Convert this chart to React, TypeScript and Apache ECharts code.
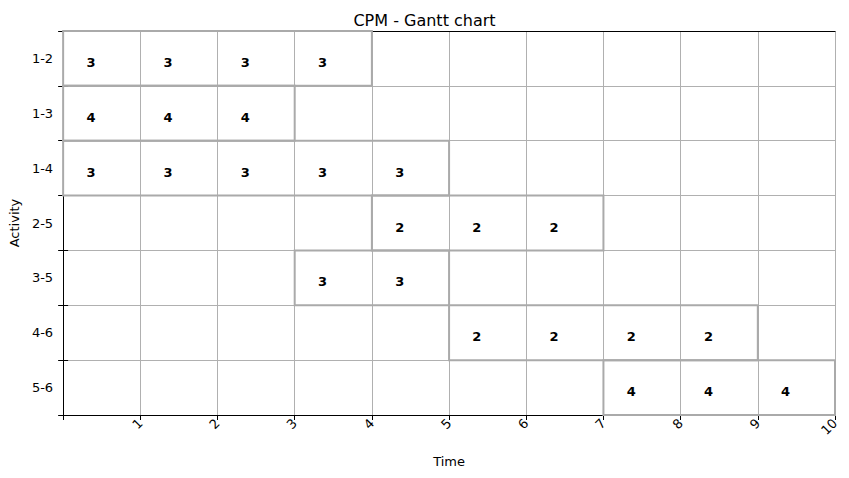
import { useRef, useEffect } from "react";
import * as echarts from "echarts";

const activities = ["1-2", "1-3", "1-4", "2-5", "3-5", "4-6", "5-6"];
const starts = [0, 0, 0, 4, 3, 5, 7];
const durations = [4, 3, 5, 3, 2, 4, 3];
const resources = [3, 4, 3, 2, 3, 2, 4];
const timeTicks = [0, 1, 2, 3, 4, 5, 6, 7, 8, 9, 10];

const font = "DejaVu Sans";

const App = () => {
  const chartRef = useRef<HTMLDivElement>(null);

  useEffect(() => {
    document.body.style.margin = "0";
    const myChart = echarts.init(chartRef.current, null, { renderer: "svg" });

    const barData = activities.map((a, i) => [starts[i], durations[i], i, resources[i]]);

    const option = {
      animation: false,
      textStyle: { fontFamily: font },
      title: {
        text: "CPM - Gantt chart",
        left: "center",
        top: 7,
        textStyle: { fontFamily: font, fontSize: 16, fontWeight: "normal", color: "#000" },
      },
      grid: { left: 60, right: 14, top: 31, bottom: 63 },
      xAxis: [
        {
          type: "value",
          min: timeTicks[0],
          max: timeTicks[timeTicks.length - 1],
          interval: 1,
          name: "Time",
          nameLocation: "middle",
          nameGap: 40,
          nameTextStyle: { color: "#000", fontSize: 13, fontFamily: font },
          axisLine: { show: true, lineStyle: { color: "#000" } },
          axisTick: { show: true, length: 5, lineStyle: { color: "#000" } },
          axisLabel: {
            rotate: 45,
            color: "#000",
            fontSize: 13,
            margin: 6,
            formatter: (v: number) => (v === 0 ? "" : String(v)),
          },
          splitLine: { show: true, lineStyle: { color: "#b0b0b0" } },
        },
        {
          type: "value",
          position: "top",
          min: 0,
          max: 10,
          axisLine: { show: true, lineStyle: { color: "#000" } },
          axisTick: { show: false },
          axisLabel: { show: false },
          splitLine: { show: false },
        },
      ],
      yAxis: [
        {
          type: "category",
          data: activities,
          inverse: true,
          name: "Activity",
          nameLocation: "middle",
          nameGap: 42,
          nameTextStyle: { color: "#000", fontSize: 13, fontFamily: font },
          axisLine: { show: true, lineStyle: { color: "#000" } },
          axisTick: { show: true, length: 5, lineStyle: { color: "#000" } },
          axisLabel: { color: "#000", fontSize: 13, margin: 10 },
          splitLine: { show: true, lineStyle: { color: "#b0b0b0" } },
        },
        {
          type: "category",
          data: activities,
          inverse: true,
          position: "right",
          axisLine: { show: true, lineStyle: { color: "#000" } },
          axisTick: { show: true, length: 5, lineStyle: { color: "#000" } },
          axisLabel: { show: false },
          splitLine: { show: false },
        },
      ],
      series: [
        {
          type: "custom",
          xAxisIndex: 0,
          yAxisIndex: 0,
          data: barData,
          renderItem: (params: any, api: any) => {
            const s = api.value(0);
            const d = api.value(1);
            const row = api.value(2);
            const r = api.value(3);
            const p0 = api.coord([s, row]);
            const p1 = api.coord([s + d, row]);
            const h = api.size([0, 1])[1];
            const children: any[] = [
              {
                type: "rect",
                shape: { x: p0[0], y: p0[1] - h / 2, width: p1[0] - p0[0], height: h },
                style: { fill: "none", stroke: "#aaaaaa", lineWidth: 2 },
              },
            ];
            for (let k = 0; k < d; k++) {
              const pt = api.coord([s + k + 0.36, row]);
              children.push({
                type: "text",
                style: {
                  x: pt[0],
                  y: pt[1] + 4,
                  text: String(r),
                  fill: "#000",
                  font: `bold 13px '${font}'`,
                  align: "center",
                  verticalAlign: "middle",
                },
              });
            }
            return { type: "group", children };
          },
        },
      ],
    };

    myChart.setOption(option);
    return () => {
      myChart.dispose();
    };
  }, []);

  return <div ref={chartRef} style={{ width: "849px", height: "478px" }}></div>;
};

export default App;
